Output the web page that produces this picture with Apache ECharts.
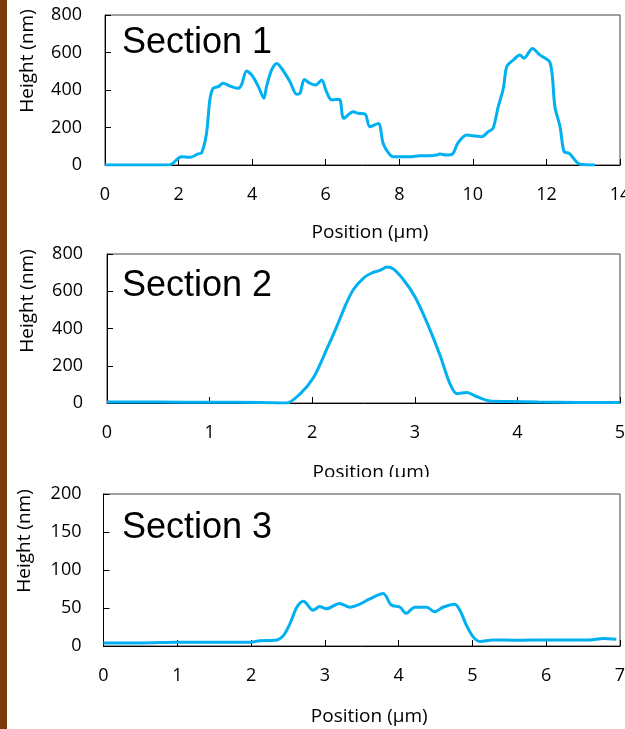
<!DOCTYPE html>
<html>
<head>
<meta charset="utf-8">
<script src="https://cdn.jsdelivr.net/npm/echarts@6/dist/echarts.min.js"></script>
<style>
html,body{margin:0;padding:0;background:#fff;}
#chart{width:625px;height:729px;}
</style>
</head>
<body>
<div id="chart"></div>
<script>
// ---- Data ----
const titles = ['Section 1', 'Section 2', 'Section 3'];
const xName = 'Position (µm)';
const yName = 'Height (nm)';

const s1X = [0, 0.5, 1.0, 1.5, 1.77, 2.08, 2.31, 2.53, 2.63, 2.76, 2.85, 2.94, 3.08, 3.21, 3.40, 3.62, 3.71, 3.85, 3.99, 4.17, 4.32, 4.39, 4.53, 4.67, 4.80, 5.03, 5.21, 5.30, 5.42, 5.57, 5.73, 5.89, 6.02, 6.16, 6.37, 6.49, 6.75, 6.88, 7.07, 7.20, 7.43, 7.56, 7.70, 7.83, 8.29, 8.56, 8.83, 9.01, 9.10, 9.28, 9.45, 9.60, 9.83, 10.01, 10.24, 10.42, 10.55, 10.69, 10.83, 10.92, 11.10, 11.28, 11.39, 11.62, 11.82, 12.10, 12.23, 12.37, 12.48, 12.62, 12.91, 13.32];
const s1Y = [0, 0, 0, 0, 2, 44, 41, 59, 66, 169, 347, 409, 418, 436, 421, 409, 427, 501, 480, 418, 356, 418, 507, 542, 516, 444, 377, 382, 456, 436, 427, 453, 391, 347, 350, 249, 284, 276, 272, 204, 222, 116, 66, 44, 44, 50, 50, 53, 59, 53, 59, 119, 160, 156, 151, 178, 196, 311, 409, 524, 560, 587, 569, 622, 587, 546, 311, 204, 71, 62, 4, 0];

const s2X = [0, 0.5, 1.0, 1.5, 1.75, 1.88, 2.01, 2.14, 2.24, 2.32, 2.40, 2.50, 2.58, 2.66, 2.73, 2.79, 2.89, 3.00, 3.12, 3.25, 3.34, 3.41, 3.51, 3.60, 3.75, 3.90, 4.2, 4.6, 5.0];
const s2Y = [6, 5, 4, 3, 0, 48, 134, 286, 411, 519, 608, 671, 698, 712, 730, 720, 662, 572, 430, 250, 107, 50, 57, 35, 9, 8, 5, 3, 3];

const s3X = [0, 0.5, 1.0, 1.5, 2.0, 2.12, 2.35, 2.44, 2.53, 2.62, 2.71, 2.84, 2.93, 3.02, 3.20, 3.34, 3.45, 3.61, 3.79, 3.90, 4.02, 4.10, 4.22, 4.38, 4.49, 4.60, 4.76, 4.83, 4.92, 5.01, 5.10, 5.28, 5.60, 6.0, 6.59, 6.77, 6.95];
const s3Y = [4, 4, 5, 5, 5, 7, 8, 14, 30, 51, 59, 47, 52, 49, 56, 51, 54, 62, 69, 54, 51, 43, 51, 51, 45, 51, 55, 47, 27, 12, 6, 8, 7.5, 8, 8, 10, 9];

const xMax = [14, 5, 7];
const xStep = [2, 1, 1];
const yMax = [800, 800, 200];
const yStep = [200, 200, 50];

// ---- Layout ----
const grids = [
  {left: 105, top: 15, width: 515, height: 150},
  {left: 107, top: 254, width: 513, height: 149},
  {left: 103.5, top: 494, width: 516.5, height: 152}
];
const titlePos = [[122, 25], [122, 268], [122, 510]];
const yNamePos = [[28, 61], [28, 301], [25, 541]];
const xNameGap = [58, 60, 61];
const yLabelMargin = [23, 24, 22];

const FONT = '"Open Sans", "Noto Sans", sans-serif';
const LINE = '#00b0f0';

const pair = (xs, ys) => xs.map((x, i) => [x, ys[i]]);
const seriesData = [pair(s1X, s1Y), pair(s2X, s2Y), pair(s3X, s3Y)];

const zl = i => (i === 2 ? 1 : 0);

const option = {
  backgroundColor: '#fff',
  animation: false,
  grid: grids.map((g, i) => Object.assign({
    show: true, borderColor: '#404040', borderWidth: 1, backgroundColor: '#fff', zlevel: zl(i),
    containLabel: false, outerBoundsMode: 'none'
  }, g)),
  xAxis: grids.map((g, i) => ({
    type: 'value', gridIndex: i, min: 0, max: xMax[i], interval: xStep[i], zlevel: zl(i),
    name: xName, nameLocation: 'middle', nameGap: xNameGap[i],
    nameTextStyle: {fontFamily: FONT, fontSize: 19, color: '#000', padding: [0, 0, 0, 15]},
    axisLine: {show: true, lineStyle: {color: '#000', width: 1}},
    axisTick: {show: true, inside: true, length: 6, lineStyle: {color: '#000'}},
    axisLabel: {fontFamily: FONT, fontSize: 18, color: '#000', margin: 21, hideOverlap: false},
    splitLine: {show: false}
  })),
  yAxis: grids.map((g, i) => ({
    type: 'value', gridIndex: i, min: 0, max: yMax[i], interval: yStep[i], zlevel: zl(i),
    axisLine: {show: true, lineStyle: {color: '#000', width: 1}},
    axisTick: {show: true, inside: true, length: 6, lineStyle: {color: '#000'}},
    axisLabel: {fontFamily: FONT, fontSize: 18, color: '#000', margin: yLabelMargin[i]},
    splitLine: {show: false}
  })),
  series: seriesData.map((d, i) => ({
    type: 'line', xAxisIndex: i, yAxisIndex: i, data: d, zlevel: zl(i),
    showSymbol: false, smooth: 0.3,
    lineStyle: {color: LINE, width: 3}, itemStyle: {color: LINE}
  })),
  graphic: [
    {type: 'rect', zlevel: 0, z: 100, shape: {x: 7, y: 477, width: 618, height: 252}, style: {fill: '#fff'}},
    {type: 'rect', zlevel: 1, z: 100, shape: {x: 0, y: 0, width: 7, height: 729}, style: {fill: '#7b3a0b'}}
  ].concat(titles.map((t, i) => ({
    type: 'text', zlevel: zl(i), z: 50, x: titlePos[i][0], y: titlePos[i][1],
    style: {text: t, font: '36px "Liberation Sans", Arial, sans-serif', fill: '#000', align: 'left', verticalAlign: 'top'}
  }))).concat(yNamePos.map((p, i) => ({
    type: 'text', zlevel: zl(i), z: 50, x: p[0], y: p[1], rotation: Math.PI / 2,
    style: {text: yName, font: '19px ' + FONT, fill: '#000', align: 'center', verticalAlign: 'middle'}
  })))
};

const chart = echarts.init(document.getElementById('chart'), null, {renderer: 'canvas'});
chart.setOption(option);
</script>
</body>
</html>
